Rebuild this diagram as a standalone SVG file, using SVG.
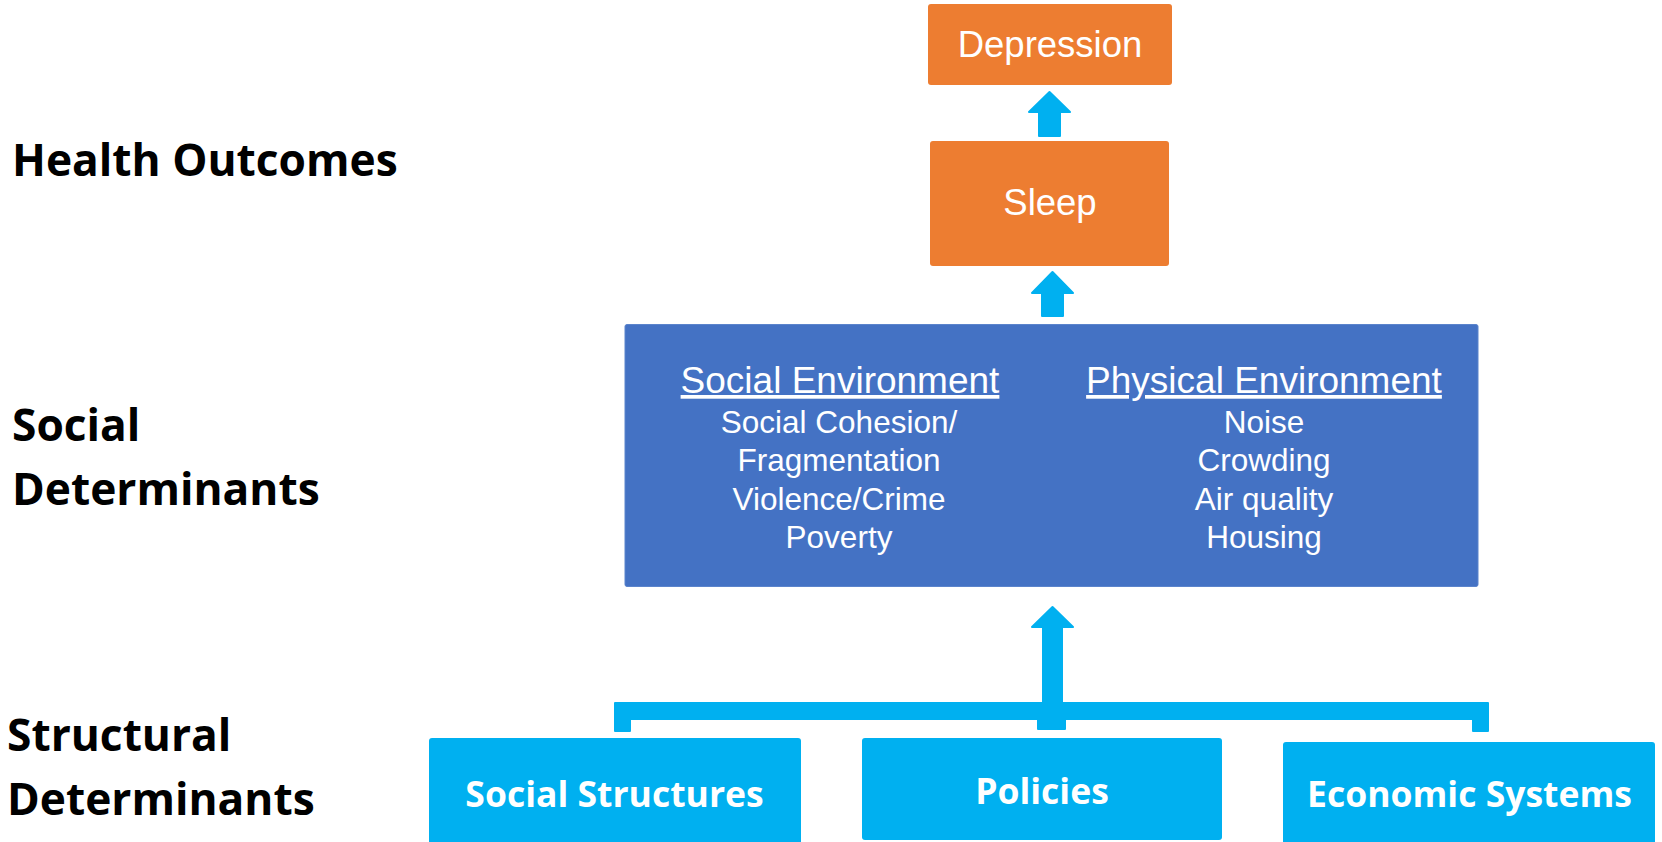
<svg xmlns="http://www.w3.org/2000/svg" width="1662" height="842" viewBox="0 0 1662 842">
  <style>
    .orange { fill: #ED7D31; }
    .dblue { fill: #4472C4; stroke: #5B84CC; stroke-width: 1; }
    .lblue { fill: #00B0F0; }
    .conn { fill: #00B0F0; stroke: #00B0F0; stroke-width: 2; stroke-linejoin: round; }
    .box-text { font-family: "Liberation Sans", Arial, sans-serif; fill: #FFFFFF; text-anchor: middle; }
    .big { font-size: 36.5px; }
    .head { font-size: 37px; text-decoration: underline; }
    .item { font-size: 31.5px; }
    .struct-text { font-family: "Open Sans", "Noto Sans", sans-serif; font-weight: bold; font-size: 35.5px; fill: #FFFFFF; text-anchor: middle; }
    .level { font-family: "Open Sans", "Noto Sans", sans-serif; font-weight: bold; font-size: 44.3px; fill: #000000; }
  </style>

  <rect width="1662" height="842" fill="#FFFFFF"/>

  <!-- Level labels -->
  <g id="label-health-outcomes">
    <text class="level" x="12" y="176">Health Outcomes</text>
  </g>
  <g id="label-social-determinants">
    <text class="level" x="12" y="441">Social</text>
    <text class="level" x="12" y="505">Determinants</text>
  </g>
  <g id="label-structural-determinants">
    <text class="level" x="7" y="751">Structural</text>
    <text class="level" x="7" y="815">Determinants</text>
  </g>

  <!-- Connectors -->
  <g id="connectors">
    <polygon class="conn" points="1049.5,92 1070,112 1060,112 1060,136 1039,136 1039,112 1029,112"/>
    <polygon class="conn" points="1052.5,272 1073,293 1063,293 1063,316 1042,316 1042,293 1032,293"/>
    <polygon class="conn" points="1052.5,607 1073,627 1062,627 1062,704 1043,704 1043,627 1032,627"/>
    <path class="conn" d="M615,703 L1488,703 L1488,731 L1473,731 L1473,719 L1065,719 L1065,729 L1038,729 L1038,719 L630,719 L630,731 L615,731 Z"/>
  </g>

  <!-- Health outcomes -->
  <g id="node-depression">
    <rect class="orange" x="928" y="4" width="244" height="81" rx="3"/>
    <text class="box-text big" x="1050" y="57">Depression</text>
  </g>
  <g id="node-sleep">
    <rect class="orange" x="930" y="141" width="239" height="125" rx="3"/>
    <text class="box-text big" x="1050" y="215">Sleep</text>
  </g>

  <!-- Social determinants -->
  <g id="node-social-determinants">
    <rect class="dblue" x="625" y="324.5" width="853" height="262" rx="2"/>
    <text class="box-text head" x="840" y="393">Social Environment</text>
    <text class="box-text item" x="839" y="433">Social Cohesion/</text>
    <text class="box-text item" x="839" y="471">Fragmentation</text>
    <text class="box-text item" x="839" y="510">Violence/Crime</text>
    <text class="box-text item" x="839" y="548">Poverty</text>
    <text class="box-text head" x="1264" y="393">Physical Environment</text>
    <text class="box-text item" x="1264" y="433">Noise</text>
    <text class="box-text item" x="1264" y="471">Crowding</text>
    <text class="box-text item" x="1264" y="510">Air quality</text>
    <text class="box-text item" x="1264" y="548">Housing</text>
  </g>

  <!-- Structural determinants -->
  <g id="node-social-structures">
    <rect class="lblue" x="429" y="738" width="372" height="110" rx="3"/>
    <text class="struct-text" x="614.5" y="807">Social Structures</text>
  </g>
  <g id="node-policies">
    <rect class="lblue" x="862" y="738" width="360" height="102" rx="3"/>
    <text class="struct-text" x="1042" y="804">Policies</text>
  </g>
  <g id="node-economic-systems">
    <rect class="lblue" x="1283" y="742" width="372" height="106" rx="3"/>
    <text class="struct-text" x="1469.5" y="807">Economic Systems</text>
  </g>
</svg>
